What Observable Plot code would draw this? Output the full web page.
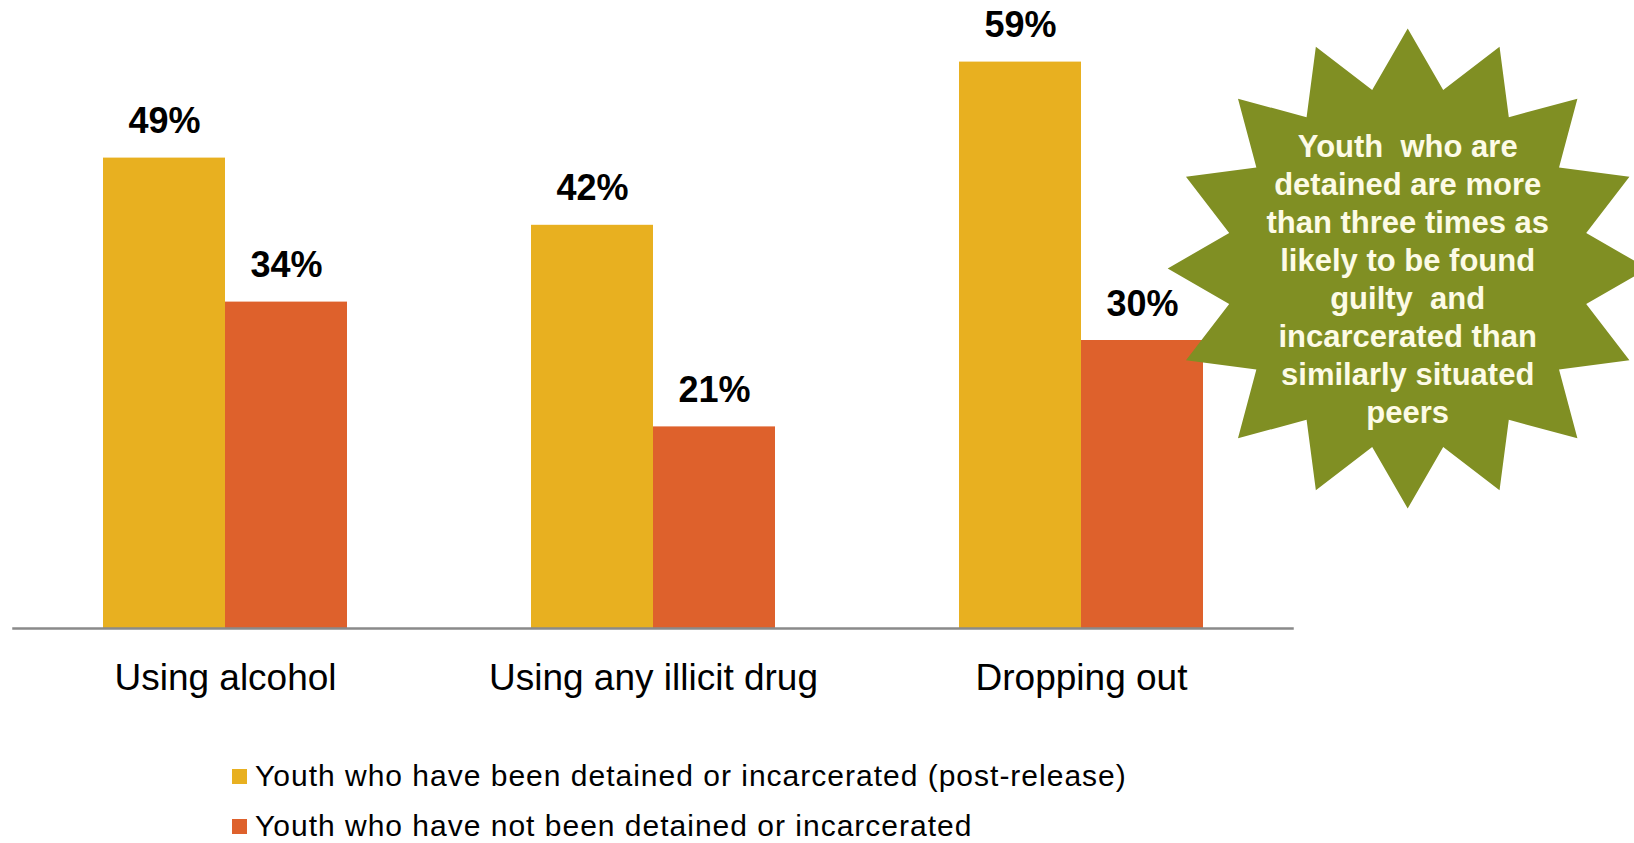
<!DOCTYPE html>
<html>
<head>
<meta charset="utf-8">
<script src="https://cdn.jsdelivr.net/npm/d3@7"></script>
<script src="https://cdn.jsdelivr.net/npm/@observablehq/plot@0.6"></script>
<style>
  html, body { margin: 0; padding: 0; background: #fff; overflow: hidden; }
  #wrap { position: relative; width: 1634px; height: 843px; overflow: hidden; background: #fff;
          font-family: "Liberation Sans", Arial, sans-serif; }
  #chart svg { display: block; }
  .legend-item { position: absolute; left: 232px; height: 50px; display: flex; align-items: center;
                 font-size: 30px; letter-spacing: 1px; color: #000; white-space: nowrap; }
  .swatch { width: 15px; height: 15px; margin-right: 8px; flex: none; }
</style>
</head>
<body>
<div id="wrap">
  <div id="chart"></div>
  <div id="legend"></div>
</div>
<script>
// ---- data ----
const categories = ["Using alcohol", "Using any illicit drug", "Dropping out"];
const seriesNames = [
  "Youth who have been detained or incarcerated (post-release)",
  "Youth who have not been detained or incarcerated"
];
const detained = [49, 42, 59];
const notDetained = [34, 21, 30];
const seriesColors = ["#E8B020", "#DE612C"];
const calloutLines = [
  "Youth  who are",
  "detained are more",
  "than three times as",
  "likely to be found",
  "guilty  and",
  "incarcerated than",
  "similarly situated",
  "peers"
];

// ---- table for Plot ----
const rows = categories.flatMap((c, i) => [
  {category: c, series: seriesNames[0], value: detained[i]},
  {category: c, series: seriesNames[1], value: notDetained[i]}
]);

const chart = Plot.plot({
  width: 1634,
  height: 720,
  marginTop: 52,
  marginBottom: 92,
  marginLeft: 13,
  marginRight: 341,
  style: {fontFamily: "'Liberation Sans', Arial, sans-serif", background: "white"},
  fx: {domain: categories, paddingInner: 0.4306, paddingOuter: 0.209, label: null},
  x: {domain: seriesNames, padding: 0, axis: null},
  y: {domain: [0, 60], axis: null},
  color: {domain: seriesNames, range: seriesColors},
  marks: [
    Plot.barY(rows, {fx: "category", x: "series", y: "value", fill: "series"}),
    Plot.text(rows, {
      fx: "category", x: "series", y: "value",
      text: d => d.value + "%",
      dy: -25, lineAnchor: "bottom",
      fontSize: 36, fontWeight: "bold", fill: "#000"
    }),
    Plot.frame({facet: "super", anchor: "bottom", stroke: "#8a8a8a", strokeWidth: 2.5,
                insetLeft: -90, insetRight: -89}),
    Plot.axisFx({anchor: "bottom", tickSize: 0, tickPadding: 35, fontSize: 37, label: null, fill: "#000"})
  ]
});
document.getElementById("chart").appendChild(chart);

// ---- starburst callout (annotation) ----
const cx = 1407.7, cy = 268.5, rOut = 240, rIn = 182, nPts = 16;
const starPts = d3.range(nPts * 2).map(k => {
  const a = Math.PI * k / nPts;
  const r = k % 2 === 0 ? rOut : rIn;
  return [cx + r * Math.cos(a), cy + r * Math.sin(a)];
});
const svg = d3.select(chart);
svg.append("path")
  .attr("d", "M" + starPts.map(p => p.join(",")).join("L") + "Z")
  .attr("fill", "#808F23");
const t = svg.append("text")
  .attr("text-anchor", "middle")
  .attr("font-family", "'Liberation Sans', Arial, sans-serif")
  .attr("font-weight", "bold")
  .attr("font-size", 31)
  .attr("fill", "#FDFBE6")
  .style("white-space", "pre");
calloutLines.forEach((line, i) => {
  t.append("tspan").attr("x", cx).attr("y", 157 + i * 38).text(line);
});

// ---- legend ----
const legend = document.getElementById("legend");
seriesNames.forEach((name, i) => {
  const item = document.createElement("div");
  item.className = "legend-item";
  item.style.top = (751 + i * 50) + "px";
  const sw = document.createElement("span");
  sw.className = "swatch";
  sw.style.background = seriesColors[i];
  const label = document.createElement("span");
  label.textContent = name;
  item.appendChild(sw);
  item.appendChild(label);
  legend.appendChild(item);
});
</script>
</body>
</html>
